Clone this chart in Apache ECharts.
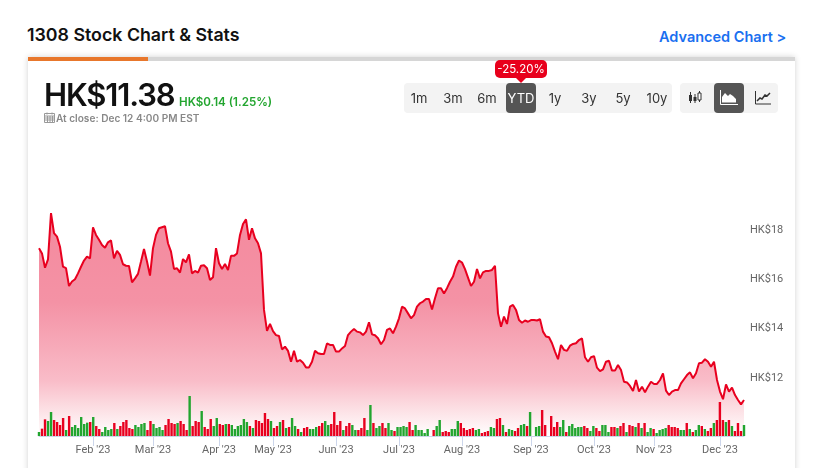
<!DOCTYPE html>
<html>
<head>
<meta charset="utf-8">
<title>1308 Stock Chart & Stats</title>
<script src="https://cdn.jsdelivr.net/npm/echarts@6/dist/echarts.min.js"></script>
<style>
	html,body{margin:0;padding:0;background:#fff;overflow:hidden;}
	body{width:814px;height:468px;position:relative;font-family:Inter,"Noto Sans",sans-serif;color:#111;}
	.abs{position:absolute;white-space:nowrap;}
	.card{position:absolute;left:28px;top:57px;width:767px;height:430px;background:#fff;box-shadow:0 0 6px rgba(0,0,0,.18);}
	.bar-grey{position:absolute;left:28px;top:57px;width:767px;height:4px;background:#d6d6d6;}
	.bar-orange{position:absolute;left:28px;top:57px;width:120px;height:4px;background:#e8772c;}
	.group{position:absolute;top:83px;height:30px;background:#f3f3f3;border-radius:4px;}
	.btn{position:absolute;top:83px;height:30px;line-height:30px;width:30px;text-align:center;font-size:13px;color:#333;}
	.btn.on{background:#555;color:#fff;border-radius:4px;}
	.badge{position:absolute;left:495px;top:60px;width:52px;height:18px;line-height:18px;background:#e8001c;color:#fff;font-size:11.5px;text-align:center;border-radius:5px;}
	.arrow{position:absolute;left:516px;top:78px;width:0;height:0;border-left:5px solid transparent;border-right:5px solid transparent;border-top:5px solid #e8001c;}
	#chart{position:absolute;left:0;top:0;width:814px;height:468px;}
</style>
</head>
<body>
	<div class="abs" style="left:27px;top:24px;font-size:17.8px;font-weight:600;line-height:22px;">1308 Stock Chart &amp; Stats</div>
	<div class="abs" style="left:659px;top:27px;font-size:14.5px;font-weight:600;line-height:19px;color:#1a6ff0;">Advanced Chart &gt;</div>
	<div class="card"></div>
	<div class="bar-grey"></div>
	<div class="bar-orange"></div>
	<div id="chart"></div>

	<div class="abs" style="left:44px;top:75px;font-size:31px;font-weight:600;line-height:40px;letter-spacing:-1.15px;">HK$11.38</div>
	<div class="abs" style="left:179px;top:94px;font-size:11.6px;font-weight:600;line-height:16px;color:#22a52f;">HK$0.14 (1.25%)</div>
	<svg class="abs" style="left:44px;top:112px;" width="11" height="11" viewBox="0 0 11 11">
		<path d="M.5 1.5h10v9H.5zM.5 4h10M3 .5v2M8 .5v2M3.5 4v6.500M6 4v6.500M8.500 4v6.500M.5 6h10M.5 8h10" fill="none" stroke="#999" stroke-width="1"/>
	</svg>
	<div class="abs" style="left:56px;top:111px;font-size:10.1px;font-weight:600;line-height:14px;color:#888;">At close: Dec 12 4:00 PM EST</div>

	<div class="group" style="left:404px;width:268px;"></div>
	<div class="btn" style="left:404px;">1m</div>
	<div class="btn" style="left:438px;">3m</div>
	<div class="btn" style="left:472px;">6m</div>
	<div class="btn on" style="left:506px;">YTD</div>
	<div class="btn" style="left:540px;">1y</div>
	<div class="btn" style="left:574px;">3y</div>
	<div class="btn" style="left:608px;">5y</div>
	<div class="btn" style="left:642px;">10y</div>
	<div class="badge">-25.20%</div>
	<div class="arrow"></div>

	<div class="group" style="left:680px;width:98px;"></div>
	<div class="btn on" style="left:714px;"></div>
	<svg class="abs" style="left:688px;top:90px;" width="14" height="15" viewBox="0 0 14 15">
		<path d="M2.500 2v11M7 4v9M11.500 1v11" stroke="#333" stroke-width="1"/>
		<path d="M1 5h3v6H1zM5.500 7h3v4h-3z" fill="#333"/>
		<path d="M10 3h3v7h-3z" fill="#fff" stroke="#333"/>
	</svg>
	<svg class="abs" style="left:720px;top:90px;" width="18" height="15" viewBox="0 0 18 15">
		<path d="M.5 0v14.500H18" fill="none" stroke="#fff"/>
		<path d="M2 12.500V7l3-4 3 3 2-2 3 2 3 3v3.500z" fill="#fff"/>
	</svg>
	<svg class="abs" style="left:755px;top:90px;" width="16" height="15" viewBox="0 0 16 15">
		<path d="M.5 1v13H16" fill="none" stroke="#333"/>
		<path d="M2 11l3-3 2 1 3-4 2 1 3-3" fill="none" stroke="#333" stroke-width="1.500"/>
	</svg>

	<script>
		// daily close, HK$
		var prices = [
			17.26,17.05,16.47,16.81,18.68,17.87,17.73,17.32,16.51,16.45,15.73,15.91,16.0,16.24,16.51,16.76,16.92,16.85,18.11,17.80,
			17.6,17.39,17.28,17.5,17.58,16.85,17.15,16.99,16.61,16.55,16.54,15.88,16.04,16.22,16.72,17.23,16.72,16.15,17.26,17.8,18.07,
			18.11,18.15,17.46,17.12,16.42,16.45,16.27,16.82,16.69,17.01,16.24,16.34,16.27,16.55,16.57,16.45,15.97,16.08,17.26,16.65,
			16.42,16.62,16.38,16.95,16.95,17.05,17.80,18.24,18.43,17.6,18.07,17.66,17.46,17.05,14.76,13.91,
			14.19,13.9,13.74,13.70,13.16,13.27,13.1,12.66,13.1,12.66,12.73,12.62,12.43,12.43,12.66,13.1,13.0,12.97,12.97,13.4,13.34,13.34,13.07,13.07,13.2,13.3,
			13.74,13.88,13.99,13.88,13.85,13.74,13.88,14.26,13.77,13.73,13.61,13.37,13.54,13.95,14.01,13.81,14.08,14.42,
			14.89,14.82,14.62,14.42,14.55,14.89,15.03,15.1,15.2,15.2,14.78,15.23,15.64,15.64,15.43,15.64,15.9,16.11,16.51,16.76,16.68,16.41,16.07,15.73,15.9,
			16.42,16.04,16.28,16.34,16.34,16.38,16.55,14.62,14.08,14.49,14.19,
			14.89,14.96,14.76,14.35,14.24,14.33,14.28,14.35,14.35,14.33,14.38,13.88,13.68,13.65,13.41,13.07,12.76,13.34,13.14,13.1,13.31,13.38,13.41,13.54,13.61,
			12.84,12.66,12.84,12.89,12.42,12.28,12.35,12.66,12.7,12.3,12.3,12.53,12.32,11.85,11.82,11.68,11.47,11.92,11.45,
			11.65,11.42,11.65,11.85,11.76,11.76,11.92,12.19,11.49,11.31,11.45,11.51,11.51,11.78,11.95,12.12,12.23,11.99,12.19,12.6,12.62,12.76,12.66,12.46,12.66,
			11.92,11.45,11.14,11.74,11.45,11.61,11.31,11.11,10.93,11.11
		];
		// volume in arbitrary units, the picture has no volume scale
		var volumes = [
			12,22,50,45,72,48,42,33,54,18,60,27,33,24,57,36,40,42,57,30,21,12,27,18,21,39,21,30,42,48,24,21,33,27,36,39,18,45,36,24,
			27,18,33,51,39,36,39,45,36,18,120,30,45,42,75,27,21,51,30,54,36,33,36,36,33,21,30,33,51,42,30,24,48,45,39,69,51,
			45,24,30,42,48,24,27,54,30,21,12,24,27,21,21,27,30,39,45,33,36,72,33,45,18,30,39,33,18,18,24,54,18,93,39,24,30,39,24,39,
			18,15,27,27,30,27,42,18,33,18,18,9,21,0,18,30,48,12,15,12,21,21,45,39,24,18,21,24,18,21,9,12,15,27,24,51,54,
			33,12,21,18,15,24,33,36,30,72,0,27,30,78,33,0,60,27,42,27,48,12,30,36,24,27,27,30,24,15,30,24,15,33,33,12,27,27,24,30,
			39,12,33,30,27,39,24,39,12,24,21,9,18,21,24,33,27,27,24,18,18,39,21,12,18,33,30,21,15,24,39,48,102,48,42,48,30,15,39,15,33
		];
		// u = green bar, d = red bar, ten bars a chunk
		var volDirs = [
			"udduuddddu","duuuuuudud","duuuududdd","dduuuudduu","uuddddu"+"ddd","uddduddduu","dduduuuuuu","duddddd",
			"uddududuud","udduuudduu","ddddudduud","dduuduuddu","uduuuudduu","uuuuduuddd","uuuddddduu","ddduudd",
			"uduudduudu","uuuddddddu","uduuuuuddu","udduuuddud","duddududuu","duuuuddddu","ududuududd","udddududdd","u"
		].join("").split("");
		var tickIndex = [18,38,60,78,99,120,141,164,185,205,227];
		var tickLabels = ["Feb '23","Mar '23","Apr '23","May '23","Jun '23","Jul '23","Aug '23","Sep '23","Oct '23","Nov '23","Dec '23"];
		var priceTicks = [12,14,16,18];

		var days = prices.map(function(p, i){
			var at = tickIndex.indexOf(i);
			return at >= 0 ? tickLabels[at] : "";
		});
		var volDays = volumes.map(function(v, i){ return String(i); });
		function isTick(i){ return tickIndex.indexOf(i) >= 0; }

		var myChart = echarts.init(document.getElementById("chart"), null, {renderer: "canvas"});
		myChart.setOption({
			animation: false,
			grid: [
				{left: 39, right: 70, top: 170, bottom: 32},
				{left: 39, right: 70, top: 396, bottom: 32}
			],
			xAxis: [
				{
					type: "category", gridIndex: 0, data: days, boundaryGap: false,
					axisLine: {lineStyle: {color: "#ccd6eb", width: 1}},
					axisTick: {length: 10, interval: isTick, lineStyle: {color: "#ccd6eb"}},
					axisLabel: {interval: isTick, color: "#666", fontSize: 11, fontFamily: "Roboto", margin: 9, hideOverlap: false}
				},
				{
					type: "category", gridIndex: 1, data: volDays, boundaryGap: false,
					axisLine: {show: false}, axisTick: {show: false}, axisLabel: {show: false}
				}
			],
			yAxis: [
				{
					type: "value", gridIndex: 0, position: "right", min: 9.65, max: 20.43,
					splitLine: {show: false}, axisLine: {show: false}, axisTick: {show: false},
					axisLabel: {
						customValues: priceTicks, margin: 6, color: "#666", fontSize: 11, fontFamily: "Roboto", padding: [3, 0, 0, 0],
						formatter: function(v){ return "HK$" + v; }
					}
				},
				{
					type: "value", gridIndex: 1, min: 0, max: 120, show: false
				}
			],
			series: [
				{
					name: "Price", type: "line", xAxisIndex: 0, yAxisIndex: 0, data: prices,
					showSymbol: false, symbol: "none", smooth: false, z: 2,
					lineStyle: {color: "#e8001f", width: 2},
					areaStyle: {
						opacity: 1,
						color: new echarts.graphic.LinearGradient(0, 0, 0, 1, [
							{offset: 0, color: "#f48a9e"},
							{offset: .4, color: "#f492a5"},
							{offset: .75, color: "#f9bcc8"},
							{offset: .87, color: "#fcdde2"},
							{offset: 1, color: "#fff"}
						])
					}
				},
				{
					name: "Volume", type: "bar", xAxisIndex: 1, yAxisIndex: 1, barWidth: 2.4, z: 3, clip: false,
					data: volumes.map(function(v, i){
						return {value: v, itemStyle: {color: volDirs[i] === "u" ? "#22a52f" : "#e8001f"}};
					})
				}
			]
		});
	</script>
</body>
</html>
